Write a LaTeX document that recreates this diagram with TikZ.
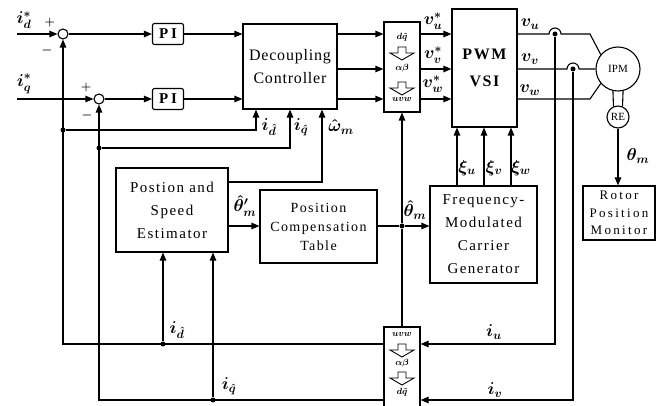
\documentclass[tikz,border=0pt]{standalone}
\usepackage{fontspec}
\setmainfont{Liberation Serif}
\newfontfamily\sfa[LetterSpace=5]{Liberation Serif}
\newfontfamily\sfb[LetterSpace=10]{Liberation Serif}
\newfontfamily\sfc[LetterSpace=18]{Liberation Serif}
\DeclareMathSizes{17}{17}{13}{10}
\usetikzlibrary{arrows.meta}
\begin{document}
\begin{tikzpicture}[x=1pt,y=-1pt,line width=1.1pt,
  >={Triangle[length=8pt,width=6.5pt]},
  box/.style={draw,rectangle,inner sep=0pt,align=center},
  tbox/.style={draw,rectangle,inner sep=0pt,align=center,minimum width=36pt,font=\fontsize{9}{31}\selectfont\boldmath},
  sumc/.style={draw,circle,minimum size=10pt,inner sep=0pt},
  dot/.style={circle,fill,inner sep=0pt,minimum size=5pt},
  lab/.style={inner sep=0pt,font=\fontsize{17}{17}\selectfont\boldmath},
  sgn/.style={inner sep=0pt,font=\fontsize{13}{13}\selectfont\boldmath},
  hollow/.pic={\draw[fill=white,line width=0.9pt] (-4,-6)--(4,-6)--(4,0)--(12,0)--(0,7)--(-12,0)--(-4,0)--cycle;}
]
\clip (0,0) rectangle (662,406);
\fill[white] (0,0) rectangle (662,406);

% coordinates
\coordinate (idin) at (17,34);
\coordinate (iqin) at (17,99);
\coordinate (yu) at (0,34);
\coordinate (yv) at (0,69);
\coordinate (yw) at (0,99);
\coordinate (hu) at (555,34);
\coordinate (hv) at (573,69);
\coordinate (bu) at (590,34);
\coordinate (bw) at (590,99);
\coordinate (yiu) at (0,344);
\coordinate (yiv) at (0,400);
\coordinate (xid) at (256,0);
\coordinate (xiq) at (290,0);
\coordinate (xom) at (322,0);
\coordinate (yom) at (0,182);
\coordinate (yth) at (0,226);
\coordinate (xu) at (457,0);
\coordinate (xv) at (484,0);
\coordinate (xw) at (511,0);

% blocks
\node[sumc] (s1) at (63,34) {};
\node[sumc] (s2) at (99,99) {};
\node[box,minimum width=31pt,minimum height=21pt,rounded corners=2pt,font=\sfc\bfseries\fontsize{15}{15}\selectfont] (pi1) at (168,34) {PI};
\node[box,minimum width=31pt,minimum height=21pt,rounded corners=2pt,font=\sfc\bfseries\fontsize{15}{15}\selectfont] (pi2) at (168,99) {PI};
\node[box,minimum width=94pt,minimum height=85pt,font=\sfa\fontsize{16}{23}\selectfont] (dec) at (290,66.5) {Decoupling\\Controller};
\node[tbox,minimum height=90pt] (t1) at (402,67) {$d\hat{q}$\\$\alpha\beta$\\$uvw$};
\node[box,minimum width=65pt,minimum height=118pt,font=\sfb\bfseries\fontsize{16}{27}\selectfont] (pwm) at (484.5,68) {PWM\\VSI};
\node[draw,circle,minimum size=44pt,inner sep=0pt,font=\fontsize{11}{11}\selectfont] (ipm) at (618,69) {IPM};
\node[draw,circle,minimum size=22pt,inner sep=0pt,font=\fontsize{11}{11}\selectfont] (re) at (618,117) {RE};
\node[box,minimum width=72pt,minimum height=54pt,font=\sfc\fontsize{13}{17.5}\selectfont] (rpm) at (619,213) {Rotor\\Position\\Monitor};
\node[box,minimum width=107pt,minimum height=97pt,font=\sfb\fontsize{15}{23}\selectfont] (fm) at (483.5,234.5) {Frequency-\\Modulated\\Carrier\\Generator};
\node[box,minimum width=112pt,minimum height=84pt,font=\sfb\fontsize{15}{23}\selectfont] (est) at (172,210) {Postion and\\Speed\\Estimator};
\node[box,minimum width=117pt,minimum height=73pt,font=\sfb\fontsize{14}{19}\selectfont] (pct) at (318.5,226.5) {Position\\Compensation\\Table};
\node[tbox,minimum height=102pt,font=\fontsize{9}{29}\selectfont\boldmath] (t2) at (402,378) {$uvw$\\$\alpha\beta$\\$d\hat{q}$\\\mbox{}};

% hollow arrows inside the transformation blocks
\pic at (402,53) {hollow};
\pic at (402,88) {hollow};
\pic at (402,350) {hollow};
\pic at (402,378) {hollow};

% connectors
\draw[->] (idin) -- (s1);
\draw[->] (iqin) -- (s2);
\draw[->] (s1) -- (pi1);
\draw[->] (s2) -- (pi2);
\draw[->] (pi1) -- (pi1 -| dec.west);
\draw[->] (pi2) -- (pi2 -| dec.west);
\draw[->] (dec.east |- yu) -- (t1.west |- yu);
\draw[->] (dec.east |- yv) -- (t1.west |- yv);
\draw[->] (dec.east |- yw) -- (t1.west |- yw);
\draw[->] (t1.east |- yu) -- (pwm.west |- yu);
\draw[->] (t1.east |- yv) -- (pwm.west |- yv);
\draw[->] (t1.east |- yw) -- (pwm.west |- yw);

\draw (pwm.east |- hu) -- ([xshift=-6pt]hu) arc[start angle=180,end angle=0,radius=6pt] -- (bu) -- (ipm.140);
\draw (pwm.east |- hv) -- ([xshift=-6pt]hv) arc[start angle=180,end angle=0,radius=6pt] -- (ipm.west);
\draw (pwm.east |- bw) -- (bw) -- (ipm.220);
\node[dot] (du) at (hu) {};
\node[dot] (dv) at (hv) {};
\draw[->] (du) |- (t2.east |- yiu);
\draw[->] (dv) |- (t2.east |- yiv);

\draw (ipm.257) -- (re.113);
\draw (ipm.283) -- (re.67);
\draw[->] (re.south) -- (re.south |- rpm.north);

\node[dot] (dA) at (63,130) {};
\node[dot] (dB) at (99,148) {};
\draw[->] (dA) -| (dec.south -| xid);
\draw[->] (dB) -| (dec.south -| xiq);
\draw[->] (est.east |- yom) -| (dec.south -| xom);
\draw[->] (t2.west |- yiu) -| (s1.south);
\draw[->] (t2.west |- yiv) -| (s2.south);
\node[dot] (dC) at (163,344) {};
\node[dot] (dD) at (213,400) {};
\draw[->] (dC) -- (est.south -| dC);
\draw[->] (dD) -- (est.south -| dD);

\draw[->] (est.east |- yth) -- (pct.west |- yth);
\node[dot] (dth) at (402,226) {};
\draw (pct.east |- yth) -- (dth);
\draw[->] (dth) -- (fm.west |- dth);
\draw[->] (dth) -- (t1.south);
\draw (dth) -- (t2.north);

\draw[->] (fm.north -| xu) -- (pwm.south -| xu);
\draw[->] (fm.north -| xv) -- (pwm.south -| xv);
\draw[->] (fm.north -| xw) -- (pwm.south -| xw);

% labels
\node[lab] (Lid) at (24,20) {$i_d^{*}$};
\node[lab] (Liq) at (24,84) {$i_q^{*}$};
\node[sgn] (Lp1) at (50,23) {$+$};
\node[sgn] (Lm1) at (47,51) {$-$};
\node[sgn] (Lp2) at (86,88) {$+$};
\node[sgn] (Lm2) at (87,116) {$-$};
\node[lab] (Lfd) at (269,127) {$i_{\hat{d}}$};
\node[lab] (Lfq) at (301,127) {$i_{\hat{q}}$};
\node[lab] (Lom) at (341,127) {$\hat{\omega}_m$};
\node[lab] (Lt1) at (245,206) {$\hat{\theta}'_m$};
\node[lab] (Lt2) at (415,210) {$\hat{\theta}_m$};
\node[lab] (Lvu) at (433,21) {$v_u^{*}$};
\node[lab] (Lvv) at (433,55) {$v_v^{*}$};
\node[lab] (Lvw) at (433,84) {$v_w^{*}$};
\node[lab] (Lou) at (530,24) {$v_u$};
\node[lab] (Lov) at (530,59) {$v_v$};
\node[lab] (Low) at (530,90) {$v_w$};
\node[lab] (Lxu) at (467,168) {$\xi_u$};
\node[lab] (Lxv) at (494,168) {$\xi_v$};
\node[lab] (Lxw) at (521,168) {$\xi_w$};
\node[lab] (Lth) at (638,156) {$\theta_m$};
\node[lab] (Liu) at (494,332) {$i_u$};
\node[lab] (Liv) at (495,390) {$i_v$};
\node[lab] (Lbd) at (177,330) {$i_{\hat{d}}$};
\node[lab] (Lbq) at (229,386) {$i_{\hat{q}}$};
\end{tikzpicture}
\end{document}
